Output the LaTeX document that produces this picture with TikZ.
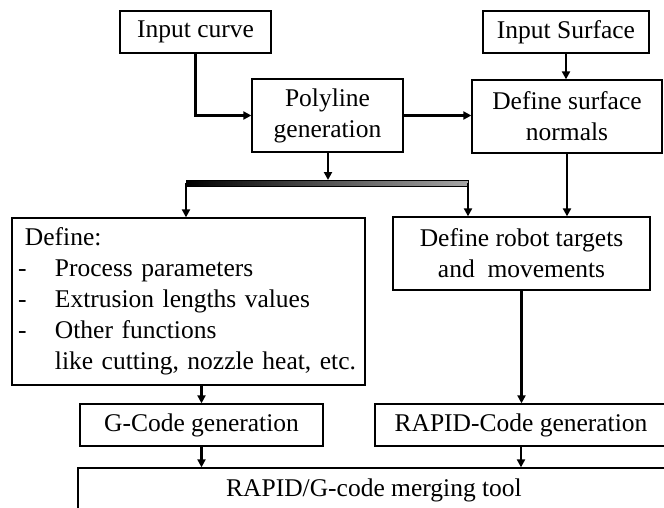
\documentclass[tikz,border=0pt]{standalone}
\usepackage{fontspec}
\setmainfont{Liberation Serif}
\usetikzlibrary{arrows.meta,calc}
\begin{document}
\begin{tikzpicture}[x=1pt,y=1pt,
  box/.style={draw=black,line width=1.3pt,inner sep=0pt,align=center,
    font=\fontsize{25.5}{31}\selectfont},
  conn/.style={line width=2.3pt,-{Triangle[length=8pt,width=8pt]}}]
\path[use as bounding box,clip] (0,0) rectangle (664,-508);
\fill[white] (0,0) rectangle (664,-508);
% nodes
\node[box,minimum width=151,minimum height=42] (incurve) at (195.5,-32) {Input curve};
\node[box,minimum width=151,minimum height=73] (poly) at (327.5,-115.5) {Polyline\\generation};
\node[box,minimum width=166,minimum height=42] (insurf) at (566,-32) {Input Surface};
\node[box,minimum width=190,minimum height=73] (normals) at (567,-116.5) {Define surface\\normals};
\node[box,minimum width=353,minimum height=167,text width=345,inner xsep=4,align=left] (define) at (188.5,-301.5)
 {\hspace*{9pt}Define:\\
  \hspace*{2pt}\makebox[37pt][l]{-}Process parameters\\
  \hspace*{2pt}\makebox[37pt][l]{-}Extrusion lengths values\\
  \hspace*{2pt}\makebox[37pt][l]{-}Other functions\\
  \hspace*{39pt}like cutting, nozzle heat, etc.};
\node[box,minimum width=257,minimum height=73] (robot) at (521.5,-253.5) {Define robot targets\\and~~movements};
\node[box,minimum width=243,minimum height=42] (gcode) at (201.5,-425) {G-Code generation};
\node[box,minimum width=292,minimum height=42] (rapid) at (521,-425) {RAPID-Code generation};
\node[box,minimum width=592,minimum height=44] (merge) at (374,-490) {RAPID/G-code merging tool};
% distribution bar
\coordinate (bl) at (186,-183);
\coordinate (br) at (468,-183);
\coordinate (bm) at (328,-180);
\shade[left color=black,right color=black!35,draw=black,line width=0.8pt] (186,-180) rectangle (468,-186);
% connectors
\draw[conn] (incurve.south) |- (poly.west);
\draw[conn] (poly.east) -- (poly.east -| normals.west);
\draw[conn] (insurf.south) -- (insurf.south |- normals.north);
\draw[conn] (poly.south -| bm) -- (bm);
\draw[conn] (bl) -- (bl |- define.north);
\draw[conn] (br) -- (br |- robot.north);
\draw[conn] (normals.south) -- (normals.south |- robot.north);
\draw[conn] (gcode.north |- define.south) -- (gcode.north);
\draw[conn] (robot.south) -- (robot.south |- rapid.north);
\draw[conn] (gcode.south) -- (gcode.south |- merge.north);
\draw[conn] (rapid.south) -- (rapid.south |- merge.north);
\end{tikzpicture}
\end{document}
